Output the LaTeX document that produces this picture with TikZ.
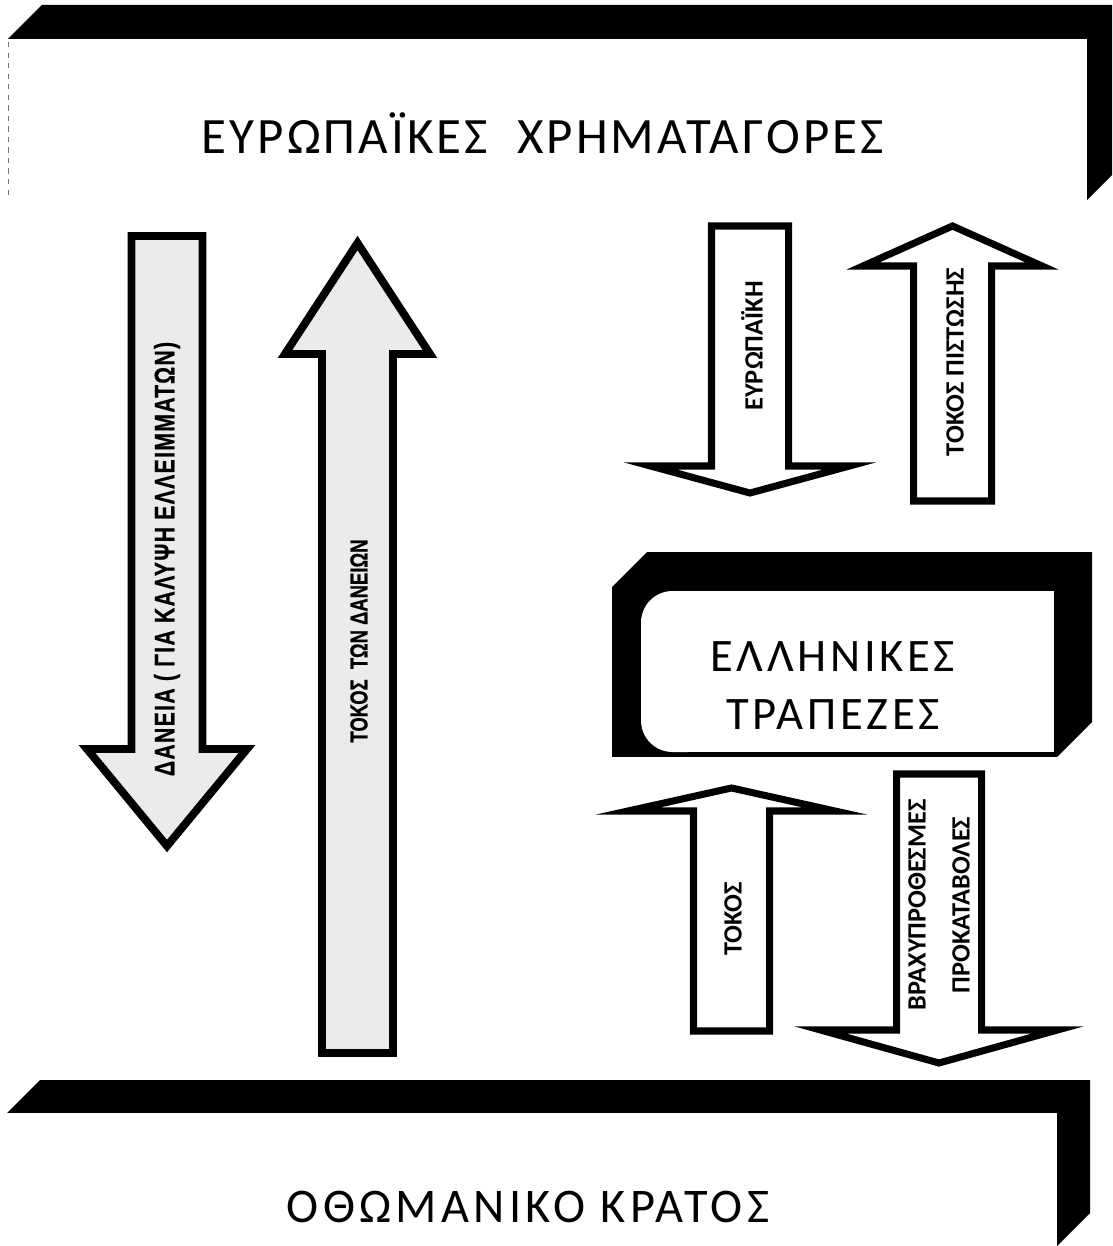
\documentclass[tikz,border=0pt]{standalone}
\usepackage{fontspec}
\setmainfont{Carlito}
\newfontfamily\condbold{Liberation Sans}[FakeStretch=0.75,UprightFont={* Bold},FakeBold=0.6]

% slab: black top and right faces, white front
% #1,#2 front top-left, #3,#4 front bottom-right, #5 depth
\newcommand{\drawslab}[5]{%
  \fill[black] (#1,#2) -- (#1+#5,#2-#5) -- (#3+#5,#2-#5) -- (#3+#5,#4-#5)
    -- (#3,#4) -- (#3,#2) -- cycle;
  \fill[white] (#1,#2) rectangle (#3,#4);
}
% block arrow: #2 x, #3 tip y, #4 head y, #5 tail y, #6 shaft half, #7 head half
\newcommand{\blockarr}[7][]{%
  \draw[arrowbody,#1] (#2,#3) -- (#2+#7,#4) -- (#2+#6,#4) -- (#2+#6,#5)
    -- (#2-#6,#5) -- (#2-#6,#4) -- (#2-#7,#4) -- cycle;
}

\begin{document}
\begin{tikzpicture}
[x=0.02cm,y=-0.02cm,%
  arrowbody/.style={draw=black,line width=4pt,fill=white},%
  bigarrow/.style={line width=4.5pt,fill=black!8},%
  title/.style={inner sep=0pt,font=\fontsize{29}{34}\selectfont},%
  biglabel/.style={inner sep=0pt,rotate=90,font=\condbold\fontsize{14}{16}\selectfont},%
  smalllabel/.style={inner sep=0pt,rotate=90,align=center,font=\bfseries\fontsize{15}{18}\selectfont}]
\clip (0,0) rectangle (1112,1246);

% the three boxes
\drawslab{8}{39}{1087}{200}{34}
\draw[black!55,thin,dashed] (8,42) -- (8,198);
\drawslab{7}{1113}{1057}{1246}{33}
\drawslab{612}{587}{1057}{757}{35}
\fill[black] (612,587) rectangle (1057,757);
\fill[white] (680,591) rectangle (1054,752);
\fill[white] (641,591) [rounded corners=18pt] rectangle (720,752);

\node[title,font=\fontsize{29}{34}\selectfont\addfontfeature{LetterSpace=6}]
  (markets) at (543,133) {ΕΥΡΩΠΑΪΚΕΣ\ \ ΧΡΗΜΑΤΑΓΟΡΕΣ};
\node[title,font=\fontsize{26.5}{33}\selectfont\addfontfeature{LetterSpace=8},align=center]
  (banks) at (833,686) {ΕΛΛΗΝΙΚΕΣ\\[0pt]ΤΡΑΠΕΖΕΣ};
\node[title,font=\fontsize{27.5}{32}\selectfont\addfontfeature{LetterSpace=9}]
  (ottoman) at (528,1207) {ΟΘΩΜΑΝΙΚΟ ΚΡΑΤΟΣ};

% loans and their interest
\blockarr[bigarrow]{167}{846}{749}{236}{35.5}{80}
\blockarr[bigarrow]{357.5}{243}{354}{1053}{35.5}{72.5}
\node[biglabel,font=\condbold\fontsize{16}{18}\selectfont\addfontfeature{LetterSpace=5}]
  (loans) at (167,559) {ΔΑΝΕΙΑ ( ΓΙΑ ΚΑΛΥΨΗ ΕΛΛΕΙΜΜΑΤΩΝ)};
\node[biglabel] (loanint) at (359,641) {ΤΟΚΟΣ\ \ ΤΩΝ ΔΑΝΕΙΩΝ};

% credit between markets and banks
\blockarr{750}{493}{466}{226}{38.5}{99.5}
\blockarr{952.5}{226}{266}{501}{39}{89.5}
\node[smalllabel] (eurocred) at (752,346) {ΕΥΡΩΠΑΪΚΗ};
\node[smalllabel] (credint) at (955,362) {ΤΟΚΟΣ ΠΙΣΤΩΣΗΣ};

% banks and the state
\blockarr{731.5}{788}{811}{1031}{38}{103.5}
\blockarr{939}{1063}{1030}{774}{42.5}{118.5}
\node[smalllabel] (stateint) at (733,919) {ΤΟΚΟΣ};
\node[smalllabel] (advances) at (939,905) {ΒΡΑΧΥΠΡΟΘΕΣΜΕΣ\\[7pt]ΠΡΟΚΑΤΑΒΟΛΕΣ};
\end{tikzpicture}
\end{document}
